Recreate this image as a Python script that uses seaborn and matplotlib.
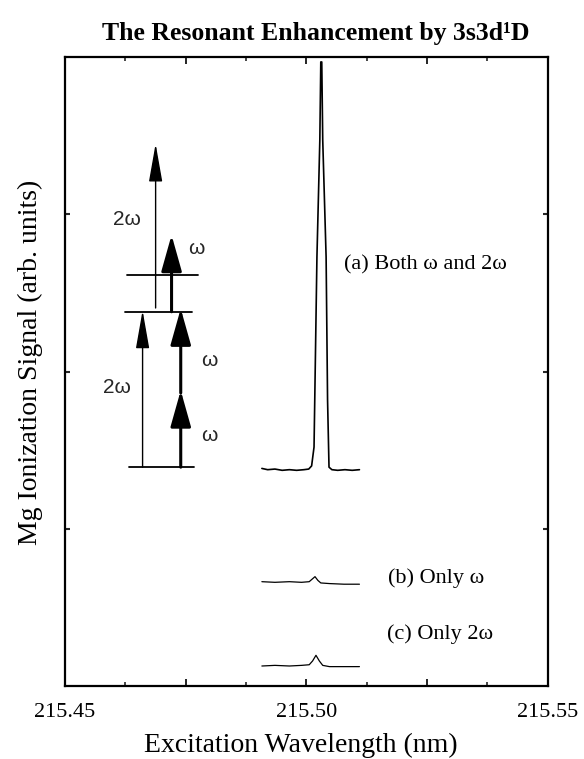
import matplotlib
matplotlib.use("Agg")
import matplotlib.pyplot as plt
import numpy as np
import pandas as pd
import seaborn as sns
from matplotlib.patches import FancyArrowPatch
from matplotlib.ticker import FixedLocator, FixedFormatter

# ---------------- data ----------------
# (a) Both w and 2w
a_x = [215.4908, 215.4920, 215.4935, 215.4950, 215.4965, 215.4980, 215.4995,
       215.5005, 215.5011, 215.5014, 215.5016, 215.5022, 215.5028, 215.5030,
       215.5032, 215.5034, 215.5041, 215.5044, 215.5047, 215.5053, 215.5065,
       215.5080, 215.5095, 215.5110]
a_y = [0.346, 0.344, 0.345, 0.343, 0.344, 0.343, 0.344,
       0.345, 0.350, 0.368, 0.380, 0.682, 0.868, 0.992,
       0.992, 0.868, 0.682, 0.455, 0.348, 0.344, 0.343,
       0.344, 0.343, 0.344]
# (b) Only w
b_x = [215.4908, 215.4935, 215.4965, 215.4990, 215.5006, 215.5012, 215.5018,
       215.5024, 215.5030, 215.5048, 215.5078, 215.5110]
b_y = [0.166, 0.165, 0.166, 0.165, 0.166, 0.170, 0.174,
       0.168, 0.164, 0.163, 0.162, 0.162]
# (c) Only 2w
c_x = [215.4908, 215.4935, 215.4965, 215.4990, 215.5006, 215.5013, 215.5020,
       215.5027, 215.5034, 215.5048, 215.5078, 215.5110]
c_y = [0.032, 0.033, 0.032, 0.033, 0.034, 0.040, 0.049,
       0.040, 0.033, 0.031, 0.031, 0.031]

trace_labels = ["(a) Both \u03c9 and 2\u03c9", "(b) Only \u03c9", "(c) Only 2\u03c9"]
trace_label_pos = [(215.5247, 0.669), (215.5268, 0.172), (215.5276, 0.083)]

# energy-level diagram (data coordinates)
levels_x0 = [215.4632, 215.4624, 215.4628]
levels_x1 = [215.4767, 215.4764, 215.4775]
levels_y = [0.348, 0.595, 0.653]
# arrows: x, y_start, y_end, thick?
arrow_x = [215.4661, 215.4740, 215.4740, 215.4688, 215.4721]
arrow_y0 = [0.348, 0.348, 0.466, 0.601, 0.595]
arrow_y1 = [0.597, 0.470, 0.600, 0.862, 0.717]
arrow_thick = [False, True, True, False, True]
diag_labels = ["2\u03c9", "\u03c9", "\u03c9", "2\u03c9", "\u03c9"]
diag_label_x = [215.4628, 215.4773, 215.4800, 215.4607, 215.4800]
diag_label_y = [0.741, 0.696, 0.518, 0.474, 0.399]

xticks_major = [215.45, 215.475, 215.50, 215.525, 215.55]
xtick_labels = ["215.45", "", "215.50", "", "215.55"]
xticks_minor = [215.4625, 215.4875, 215.5125, 215.5375]
yticks = [0.25, 0.5, 0.75]

title = "The Resonant Enhancement by 3s3d\u00b9D"
xlabel = "Excitation Wavelength (nm)"
ylabel = "Mg Ionization Signal (arb. units)"

# ---------------- style ----------------
sns.set_theme(style="white")
plt.rcParams["font.family"] = ["Liberation Serif", "DejaVu Serif"]
plt.rcParams["axes.linewidth"] = 1.5

fig = plt.figure(figsize=(5.84, 7.59), dpi=100)
ax = fig.add_axes([0.111, 0.096, 0.827, 0.829])

for xs, ys, lw in [(a_x, a_y, 1.2), (b_x, b_y, 0.9), (c_x, c_y, 0.9)]:
    df = pd.DataFrame({"x": xs, "y": ys})
    sns.lineplot(data=df, x="x", y="y", ax=ax, color="black", lw=lw,
                 sort=False, estimator=None)

for (tx, ty), t in zip(trace_label_pos, trace_labels):
    ax.text(tx, ty, t, fontsize=16, ha="center", va="center", color="black")

# diagram
for x0, x1, y in zip(levels_x0, levels_x1, levels_y):
    ax.plot([x0, x1], [y, y], color="black", lw=1.3)
for x, y0, y1, thick in zip(arrow_x, arrow_y0, arrow_y1, arrow_thick):
    if thick:
        style = "-|>,head_length=1.6,head_width=0.45"
        lw = 2.2
    else:
        style = "-|>,head_length=1.7,head_width=0.3"
        lw = 1.0
    arr = FancyArrowPatch((x, y0), (x, y1), arrowstyle=style, mutation_scale=14,
                          color="black", lw=lw, shrinkA=0, shrinkB=0)
    ax.add_patch(arr)
for t, x, y in zip(diag_labels, diag_label_x, diag_label_y):
    ax.text(x, y, t, fontsize=15, ha="center", va="center",
            family=["Liberation Sans", "DejaVu Sans"])

ax.set_xlim(215.45, 215.55)
ax.set_ylim(0, 1)
ax.xaxis.set_major_locator(FixedLocator(xticks_major))
ax.xaxis.set_major_formatter(FixedFormatter(xtick_labels))
ax.xaxis.set_minor_locator(FixedLocator(xticks_minor))
ax.set_yticks(yticks)
ax.set_yticklabels([])
ax.tick_params(axis="x", which="major", direction="in", length=5, width=1.2,
               top=True, bottom=True, labelsize=16, pad=12, colors="black")
ax.tick_params(axis="x", which="minor", direction="in", length=3, width=1.2,
               top=True, bottom=True)
ax.tick_params(axis="y", which="major", direction="in", length=3.5, width=1.5,
               left=True, right=True)
for s in ax.spines.values():
    s.set_color("black")
    s.set_linewidth(1.6)

ax.set_xlabel(xlabel, fontsize=20, color="black")
ax.set_ylabel(ylabel, fontsize=20, color="black")
ax.xaxis.label.set_va("center")
ax.yaxis.label.set_va("center")
ax.xaxis.set_label_coords(0.489, -0.095)
ax.yaxis.set_label_coords(-0.072, 0.515)
fig.text(0.541, 0.9565, title, fontsize=18.5, ha="center", va="center",
         fontweight="bold", color="black")

fig.savefig("out.png", dpi=100)
